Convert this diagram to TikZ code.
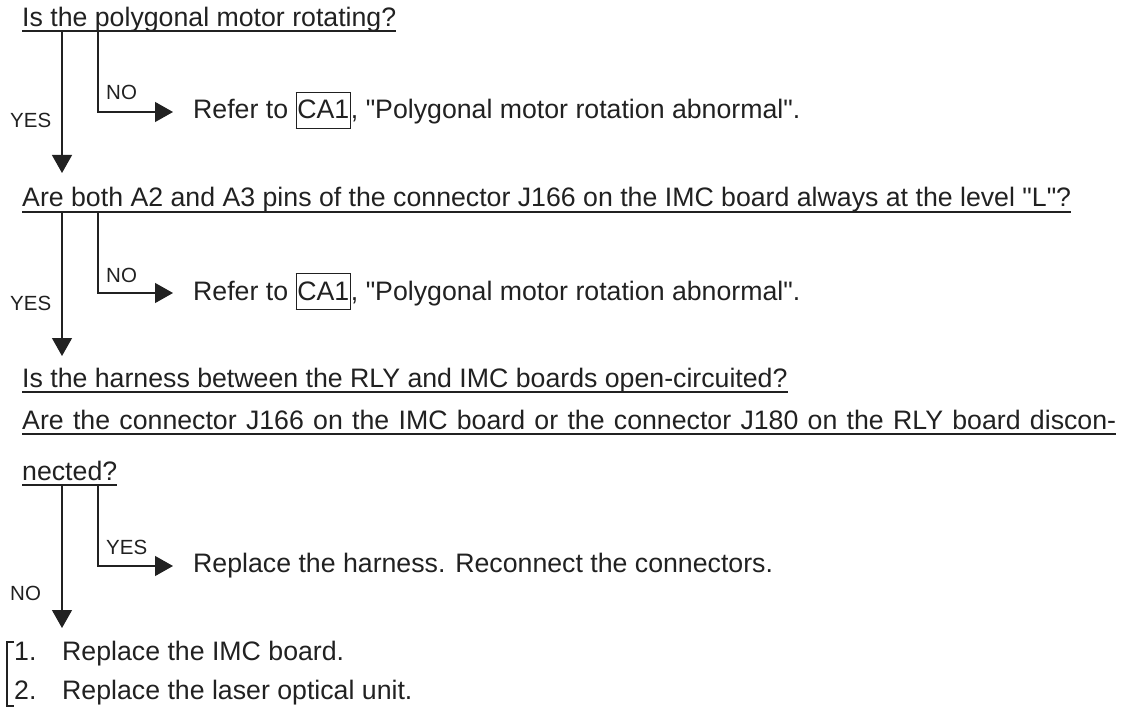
\documentclass[tikz,border=0pt]{standalone}
\usepackage{fontspec}
\setmainfont{Liberation Sans}[Ligatures=TeXOff]
\usetikzlibrary{arrows.meta}
\definecolor{ink}{gray}{0.13}
\newcommand{\qt}{\symbol{34}}
\newcommand{\cabox}[1]{{\setlength{\fboxsep}{0.6pt}\setlength{\fboxrule}{1.1pt}\fbox{\rule[-8pt]{0pt}{33pt}#1}}}
\tikzset{
  main/.style={anchor=base west, inner sep=0pt, text=ink, font=\fontsize{26.7pt}{32pt}\selectfont},
  lab/.style={anchor=base west, inner sep=0pt, text=ink, font=\fontsize{20.5pt}{24pt}\selectfont},
  uline/.style={draw=ink, line width=1.3pt},
  conn/.style={draw=ink, line width=1.3pt},
  arr/.style={conn, -{Triangle[length=18pt, width=20pt]}},
  brk/.style={draw=ink, line width=1.1pt}
}
\begin{document}
\begin{tikzpicture}[x=1pt, y=-1pt]
\useasboundingbox (0,0) rectangle (1130,714);
% questions
\node[main] (q1) at (22,27) {Is the polygonal motor rotating?};
\node[main] (q2) at (22,207) {Are both A2 and A3 pins of the connector J166 on the IMC board always at the level \qt L\qt ?};
\node[main] (q3) at (22,387) {Is the harness between the RLY and IMC boards open-circuited?};
\node[main] (q4) at (22,429) {\makebox[1094pt][s]{Are the connector J166 on the IMC board or the connector J180 on the RLY board discon-}};
\node[main] (q5) at (22,480) {nected?};
\foreach \n/\d in {q1/4,q2/5,q3/5,q4/5,q5/5}
  \draw[uline] ([yshift=-\d pt]\n.base west) -- ([yshift=-\d pt]\n.base east);
% results
\node[main] (r1) at (193,119) {Refer to \cabox{CA1}, \qt Polygonal motor rotation abnormal\qt .};
\node[main] (r2) at (193,300) {Refer to \cabox{CA1}, \qt Polygonal motor rotation abnormal\qt .};
\node[main] (r3) at (193,572) {Replace the harness. Reconnect the connectors.};
\node[main] (l1n) at (14,660) {1.};
\node[main] (l1) at (62,660) {Replace the IMC board.};
\node[main] (l2n) at (14,699) {2.};
\node[main] (l2) at (62,699) {Replace the laser optical unit.};
% labels
\node[lab] (n1) at (106,100) {NO};
\node[lab] (y1) at (10,128) {YES};
\node[lab] (n2) at (106,282) {NO};
\node[lab] (y2) at (10,310) {YES};
\node[lab] (y3) at (106,554) {YES};
\node[lab] (n3) at (10,600) {NO};
% branch coordinates
\coordinate (a1) at (62,31);  \coordinate (t1) at (62,173);
\coordinate (b1) at (98,31);  \coordinate (c1) at (98,112); \coordinate (e1) at (173,112);
\coordinate (a2) at (62,212); \coordinate (t2) at (62,356);
\coordinate (b2) at (98,212); \coordinate (c2) at (98,293); \coordinate (e2) at (173,293);
\coordinate (a3) at (62,485); \coordinate (t3) at (62,628);
\coordinate (b3) at (98,485); \coordinate (c3) at (98,566); \coordinate (e3) at (173,566);
\draw[arr] (a1) -- (t1);
\draw[arr] (b1) -- (c1) -- (e1);
\draw[arr] (a2) -- (t2);
\draw[arr] (b2) -- (c2) -- (e2);
\draw[arr] (a3) -- (t3);
\draw[arr] (b3) -- (c3) -- (e3);
% bracket
\coordinate (k1) at (14,642); \coordinate (k2) at (14,706);
\draw[brk] (k1) -- (7,642) -- (7,706) -- (k2);
\end{tikzpicture}
\end{document}
